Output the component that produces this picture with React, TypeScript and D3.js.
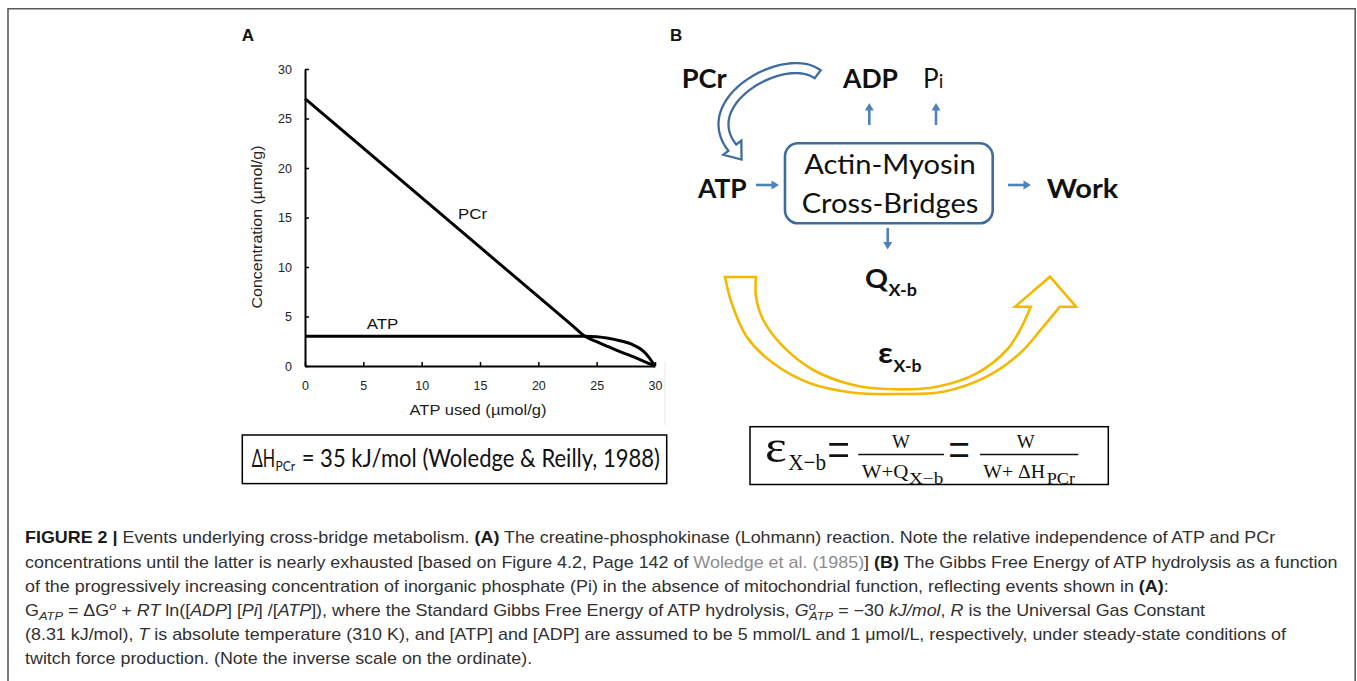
import React, { useLayoutEffect, useRef, useState } from 'react';
import * as d3 from 'd3';

// ---------- Panel A data ----------
const atpUsed = [0, 5, 10, 15, 20, 23, 24, 25, 26, 27, 28, 29, 29.5, 30];
const pcrConc = [27, 22, 17, 12, 7, 4, 3, 2.45, 1.95, 1.45, 1.0, 0.5, 0.25, 0];
const atpConc = [3, 3, 3, 3, 3, 3, 3, 2.95, 2.8, 2.55, 2.2, 1.5, 0.85, 0];
const xTicks = [0, 5, 10, 15, 20, 25, 30];
const yTicks = [0, 5, 10, 15, 20, 25, 30];
const xTitle = 'ATP used (µmol/g)';
const yTitle = 'Concentration (µmol/g)';

type Seg = { t: string; b?: boolean; i?: boolean; g?: boolean; sub?: boolean; sup?: boolean; back?: number };

const captionLines: Seg[][] = [
  [
    { t: 'FIGURE 2 |', b: true },
    { t: ' Events underlying cross-bridge metabolism. ' },
    { t: '(A)', b: true },
    { t: ' The creatine-phosphokinase (Lohmann) reaction. Note the relative independence of ATP and PCr' },
  ],
  [
    { t: 'concentrations until the latter is nearly exhausted [based on Figure 4.2, Page 142 of ' },
    { t: 'Woledge et al. (1985)', g: true },
    { t: '] ' },
    { t: '(B)', b: true },
    { t: ' The Gibbs Free Energy of ATP hydrolysis as a function' },
  ],
  [
    { t: 'of the progressively increasing concentration of inorganic phosphate (Pi) in the absence of mitochondrial function, reflecting events shown in ' },
    { t: '(A)', b: true },
    { t: ':' },
  ],
  [
    { t: 'G' },
    { t: 'ATP', i: true, sub: true },
    { t: ' = ΔG' },
    { t: 'o', i: true, sup: true },
    { t: ' + ' },
    { t: 'RT', i: true },
    { t: ' ln([' },
    { t: 'ADP', i: true },
    { t: ']  [' },
    { t: 'Pi', i: true },
    { t: '] /[' },
    { t: 'ATP', i: true },
    { t: ']), where the Standard Gibbs Free Energy of ATP hydrolysis, ' },
    { t: 'G', i: true },
    { t: 'o', i: true, sup: true },
    { t: 'ATP', i: true, sub: true, back: -6 },
    { t: ' =  −30 ' },
    { t: 'kJ/mol', i: true },
    { t: ', ' },
    { t: 'R', i: true },
    { t: ' is the Universal Gas Constant' },
  ],
  [
    { t: '(8.31 kJ/mol), ' },
    { t: 'T', i: true },
    { t: ' is absolute temperature (310 K), and [ATP] and [ADP] are assumed to be 5 mmol/L and 1 μmol/L, respectively, under steady-state conditions of' },
  ],
  [{ t: 'twitch force production. (Note the inverse scale on the ordinate).' }],
];
const captionBaselines = [543.3, 567.5, 591.7, 616, 640.2, 664.4];

// ---------- Panel B geometry (illustration) ----------
const yellowOuter: [number, number][] = [
  [725, 277], [731.7, 303.3], [746.7, 336.7], [773.3, 363.3], [810, 383.3], [853.3, 392.7],
  [896.7, 394], [943.3, 391.7], [986.7, 376.7], [1020, 353.3], [1043.3, 326.7], [1060, 306.7],
];
const yellowInner: [number, number][] = [
  [1030.7, 306.7], [1020, 330], [1006.7, 350], [976.7, 373.3], [936.7, 386.7], [893.3, 389.3],
  [853.3, 385], [813.3, 370], [783.3, 346.7], [763.3, 320], [756, 296.7], [756, 277],
];
const yellowHead: [number, number][] = [[1076, 306.7], [1050, 276.7], [1015, 306.7]];

const SANS = "'Liberation Sans', Arial, sans-serif";
const CAL = "Lato, 'Open Sans', 'Noto Sans', sans-serif";
const SERIF = "'Liberation Serif', 'DejaVu Serif', serif";
const BLUE = '#4F81BD';
const DBLUE = '#3F6C9E';
const GOLD = '#F5B800';

function bez(p: number[][], t: number) {
  const u = 1 - t;
  const a = u * u * u, b = 3 * u * u * t, c = 3 * u * t * t, d = t * t * t;
  return [a * p[0][0] + b * p[1][0] + c * p[2][0] + d * p[3][0], a * p[0][1] + b * p[1][1] + c * p[2][1] + d * p[3][1]];
}
function bezD(p: number[][], t: number) {
  const u = 1 - t;
  const x = 3 * u * u * (p[1][0] - p[0][0]) + 6 * u * t * (p[2][0] - p[1][0]) + 3 * t * t * (p[3][0] - p[2][0]);
  const y = 3 * u * u * (p[1][1] - p[0][1]) + 6 * u * t * (p[2][1] - p[1][1]) + 3 * t * t * (p[3][1] - p[2][1]);
  const l = Math.hypot(x, y);
  return [x / l, y / l];
}

function curvedBlockArrow(p: number[][], half: number, headHalf: number, headLen: number) {
  const N = 48;
  const L: number[][] = [], R: number[][] = [];
  for (let i = 0; i <= N; i++) {
    const t = i / N;
    const pt = bez(p, t);
    const d = bezD(p, t);
    const n = [-d[1], d[0]];
    L.push([pt[0] + n[0] * half, pt[1] + n[1] * half]);
    R.push([pt[0] - n[0] * half, pt[1] - n[1] * half]);
  }
  const end = bez(p, 1);
  const d = bezD(p, 1);
  const n = [-d[1], d[0]];
  const w1 = [end[0] + n[0] * headHalf, end[1] + n[1] * headHalf];
  const w2 = [end[0] - n[0] * headHalf, end[1] - n[1] * headHalf];
  const tip = [end[0] + d[0] * headLen, end[1] + d[1] * headLen];
  const pts = [...L, w1, tip, w2, ...R.reverse()];
  return 'M' + pts.map((q) => q[0].toFixed(2) + ',' + q[1].toFixed(2)).join('L') + 'Z';
}

function Arrow({ x1, y1, x2, y2 }: { x1: number; y1: number; x2: number; y2: number }) {
  const dx = x2 - x1, dy = y2 - y1;
  const l = Math.hypot(dx, dy);
  const ux = dx / l, uy = dy / l;
  const hl = 7.5, hw = 4.5;
  const bx = x2 - ux * hl, by = y2 - uy * hl;
  const pts = [
    [x2, y2],
    [bx - uy * hw, by + ux * hw],
    [bx + uy * hw, by - ux * hw],
  ];
  return (
    <g>
      <line x1={x1} y1={y1} x2={bx + ux} y2={by + uy} stroke={BLUE} strokeWidth={2.6} />
      <polygon points={pts.map((p) => p.join(',')).join(' ')} fill={BLUE} />
    </g>
  );
}

function CaptionLine({ segs, y, k, id }: { segs: Seg[]; y: number; k: number; id: string }) {
  let prev = 0;
  return (
    <text id={id} transform={`translate(25,${y}) scale(${k},1)`} x={0} y={0} fontFamily={SANS} fontSize={16} fill="#303030">
      {segs.map((s, i) => {
        const shift = s.sub ? 3.5 : s.sup ? -6 : 0;
        const dy = shift - prev;
        prev = shift;
        return (
          <tspan
            key={i}
            dy={dy}
            dx={s.back || 0}
            fontWeight={s.b ? 700 : 400}
            fontStyle={s.i ? 'italic' : 'normal'}
            fontSize={s.sub || s.sup ? 11.5 : 16}
            fill={s.g ? '#8c8c8c' : s.b ? '#1a1a1a' : '#303030'}
          >
            {s.t}
          </tspan>
        );
      })}
    </text>
  );
}

export default function App() {
  const xAxisRef = useRef<SVGGElement>(null);
  const yAxisRef = useRef<SVGGElement>(null);
  const capRef = useRef<SVGGElement>(null);
  const [k, setK] = useState(1);

  const x = d3.scaleLinear().domain([0, 30]).range([305, 655]);
  const y = d3.scaleLinear().domain([0, 30]).range([366, 69]);

  const line = d3
    .line<number>()
    .x((_, i) => x(atpUsed[i]))
    .y((d) => y(d))
    .curve(d3.curveMonotoneX);

  useLayoutEffect(() => {
    const gx = d3.select(xAxisRef.current as SVGGElement);
    gx.call(d3.axisBottom(x).tickValues(xTicks).tickSizeInner(-4).tickSizeOuter(0).tickPadding(15).tickFormat(d3.format('d')));
    const gy = d3.select(yAxisRef.current as SVGGElement);
    gy.call(d3.axisLeft(y).tickValues(yTicks).tickSizeInner(-4).tickSizeOuter(0).tickPadding(13).tickFormat(d3.format('d')));
    [gx, gy].forEach((g) => {
      g.attr('font-size', 12.5).attr('font-family', SANS);
      g.select('.domain').attr('stroke', '#000').attr('stroke-width', 2);
      g.selectAll('.tick line').attr('stroke', '#000').attr('stroke-width', 1.5);
      g.selectAll('.tick text').attr('fill', '#222').style('font-size', '12.5px').style('font-family', SANS);
    });
    const t = capRef.current?.querySelector('#cap1') as SVGTextElement | null;
    if (t) {
      const w = t.getBBox().width;
      if (w > 0) setK((1338 - 25) / w);
    }
  }, []);

  const outerPath = d3.line().curve(d3.curveCatmullRom)(yellowOuter) as string;
  const innerPath = (d3.line().curve(d3.curveCatmullRom)(yellowInner) as string).replace(/^M/, 'L');
  const yellowPath =
    outerPath + yellowHead.map((p) => 'L' + p[0] + ',' + p[1]).join('') + innerPath + 'Z';

  const bluePath = curvedBlockArrow(
    [
      [817.7, 74.3],
      [785.7, 50.3],
      [695.1, 100.3],
      [732.3, 147.7],
    ],
    5,
    11.5,
    15
  );

  return (
    <svg width={1357} height={681} style={{ position: 'absolute', left: 0, top: 0, background: '#fff' }}>
      <rect x={0} y={0} width={1357} height={681} fill="#fff" />
      {/* outer frame */}
      <path d="M8,681V8.8H1355.2V681" fill="none" stroke="#5a5a5a" strokeWidth={1.6} />

      {/* ---------- Panel A ---------- */}
      <text x={241.7} y={40.7} fontFamily={SANS} fontWeight={700} fontSize={17} fill="#111">A</text>
      <line x1={665} y1={362} x2={665} y2={425} stroke="#e8e8e8" strokeWidth={1} />
      <g ref={yAxisRef} transform="translate(305,0)" />
      <g ref={xAxisRef} transform="translate(0,366)" />
      <path d={line(pcrConc) as string} fill="none" stroke="#000" strokeWidth={3} strokeLinejoin="round" />
      <path d={line(atpConc) as string} fill="none" stroke="#000" strokeWidth={3} strokeLinejoin="round" />
      <text x={458} y={219.3} fontFamily={SANS} fontSize={14} fill="#111" textLength={29} lengthAdjust="spacingAndGlyphs">PCr</text>
      <text x={366.7} y={329.3} fontFamily={SANS} fontSize={14} fill="#111" textLength={31.6} lengthAdjust="spacingAndGlyphs">ATP</text>
      <text x={478} y={415} textAnchor="middle" fontFamily={SANS} fontSize={14} fill="#222" textLength={137} lengthAdjust="spacingAndGlyphs">{xTitle}</text>
      <text transform="translate(262,227) rotate(-90)" textAnchor="middle" fontFamily={SANS} fontSize={14} fill="#222" textLength={163} lengthAdjust="spacingAndGlyphs">{yTitle}</text>

      <rect x={242.3} y={435} width={424.4} height={48.6} fill="none" stroke="#000" strokeWidth={1.5} />
      <text x={251.7} y={466.7} fontFamily={CAL} fontSize={25} fill="#111" textLength={23.3} lengthAdjust="spacingAndGlyphs">ΔH</text>
      <text x={275.5} y={471} fontFamily={CAL} fontSize={14} fill="#111" textLength={19.5} lengthAdjust="spacingAndGlyphs">PCr</text>
      <text x={301.7} y={466.7} fontFamily={CAL} fontSize={25} fill="#111" textLength={358.3} lengthAdjust="spacingAndGlyphs">= 35 kJ/mol (Woledge &amp; Reilly, 1988)</text>

      {/* ---------- Panel B ---------- */}
      <text x={670} y={40.7} fontFamily={SANS} fontWeight={700} fontSize={17} fill="#111">B</text>

      <path d={yellowPath} fill="#fff" stroke={GOLD} strokeWidth={2.6} strokeLinejoin="miter" />
      <path d={bluePath} fill="#fff" stroke={DBLUE} strokeWidth={2.3} strokeLinejoin="miter" />

      <text x={681.7} y={88.3} fontFamily={CAL} fontWeight={700} fontSize={26} fill="#111" textLength={45} lengthAdjust="spacingAndGlyphs">PCr</text>
      <text x={843} y={88.3} fontFamily={CAL} fontWeight={700} fontSize={26} fill="#111" textLength={55} lengthAdjust="spacingAndGlyphs">ADP</text>
      <text x={923} y={88.3} fontFamily={CAL} fontSize={26} fill="#111">
        P<tspan fontSize={19}>i</tspan>
      </text>

      <Arrow x1={869.3} y1={125} x2={869.3} y2={103} />
      <Arrow x1={936} y1={125} x2={936} y2={103} />

      <rect x={785} y={143.3} width={207.7} height={80} rx={13} ry={13} fill="#fff" stroke={DBLUE} strokeWidth={2.6} />
      <text x={890} y={174} textAnchor="middle" fontFamily={CAL} fontSize={27} fill="#111" textLength={171.7} lengthAdjust="spacingAndGlyphs">Actin-Myosin</text>
      <text x={890} y={212.7} textAnchor="middle" fontFamily={CAL} fontSize={27} fill="#111" textLength={176.7} lengthAdjust="spacingAndGlyphs">Cross-Bridges</text>

      <text x={698} y={198.3} fontFamily={CAL} fontWeight={700} fontSize={26} fill="#111" textLength={48.7} lengthAdjust="spacingAndGlyphs">ATP</text>
      <Arrow x1={756} y1={185} x2={779} y2={185} />
      <Arrow x1={1008} y1={185} x2={1031} y2={185} />
      <text x={1046.7} y={198.3} fontFamily={CAL} fontWeight={700} fontSize={26} fill="#111" textLength={71.6} lengthAdjust="spacingAndGlyphs">Work</text>
      <Arrow x1={887.7} y1={228} x2={887.7} y2={249.5} />

      <text x={865} y={288.3} fontFamily={CAL} fontWeight={700} fontSize={26} fill="#111" textLength={23} lengthAdjust="spacingAndGlyphs">Q</text>
      <text x={888.5} y={296} fontFamily={CAL} fontWeight={700} fontSize={17} fill="#111" textLength={28.5} lengthAdjust="spacingAndGlyphs">X-b</text>
      <text x={878} y={363} fontFamily={CAL} fontWeight={700} fontSize={28} fill="#111" textLength={15} lengthAdjust="spacingAndGlyphs">ε</text>
      <text x={893.5} y={371.7} fontFamily={CAL} fontWeight={700} fontSize={17} fill="#111" textLength={28} lengthAdjust="spacingAndGlyphs">X-b</text>

      {/* efficiency formula */}
      <rect x={750} y={426.7} width={358.3} height={57.8} fill="none" stroke="#000" strokeWidth={1.5} />
      <text x={765} y={461.7} fontFamily={SERIF} fontSize={46} fill="#111" textLength={21.7} lengthAdjust="spacingAndGlyphs">ε</text>
      <text x={788.3} y={470} fontFamily={SERIF} fontSize={23.5} fill="#111" textLength={37.7} lengthAdjust="spacingAndGlyphs">X−b</text>
      <text transform="translate(827.3,453) scale(1,1.7)" x={0} y={9.5} fontFamily={SERIF} fontSize={34} fill="#111" textLength={22.7} lengthAdjust="spacingAndGlyphs">=</text>
      <text x={901} y={448.3} textAnchor="middle" fontFamily={SERIF} fontSize={19} fill="#111">W</text>
      <line x1={858.3} y1={454.5} x2={944} y2={454.5} stroke="#111" strokeWidth={1.4} />
      <text x={861.7} y={477.7} fontFamily={SERIF} fontSize={19} fill="#111" textLength={46.6} lengthAdjust="spacingAndGlyphs">W+Q</text>
      <text x={909} y={484} fontFamily={SERIF} fontSize={16} fill="#111" textLength={34.3} lengthAdjust="spacingAndGlyphs">X−b</text>
      <text transform="translate(948.3,453) scale(1,1.7)" x={0} y={9.5} fontFamily={SERIF} fontSize={34} fill="#111" textLength={21.7} lengthAdjust="spacingAndGlyphs">=</text>
      <text x={1025.8} y={448.3} textAnchor="middle" fontFamily={SERIF} fontSize={19} fill="#111">W</text>
      <line x1={980} y1={454.5} x2={1078.3} y2={454.5} stroke="#111" strokeWidth={1.4} />
      <text x={983.3} y={477.7} fontFamily={SERIF} fontSize={19} fill="#111" textLength={61.7} lengthAdjust="spacingAndGlyphs">W+ ΔH</text>
      <text x={1046.7} y={484} fontFamily={SERIF} fontSize={16} fill="#111" textLength={28.3} lengthAdjust="spacingAndGlyphs">PCr</text>

      {/* ---------- caption ---------- */}
      <g ref={capRef}>
        {captionLines.map((segs, i) => (
          <CaptionLine key={i} id={'cap' + i} segs={segs} y={captionBaselines[i]} k={k} />
        ))}
      </g>
    </svg>
  );
}
